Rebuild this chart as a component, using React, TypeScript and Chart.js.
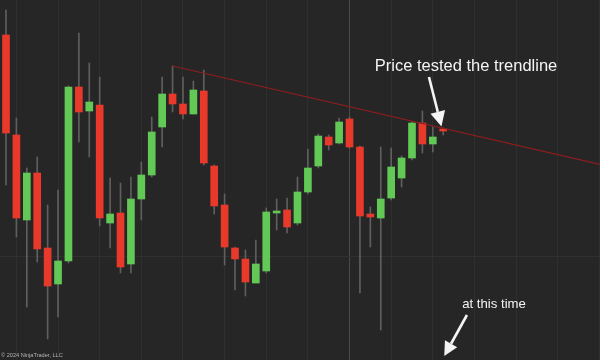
import React, { useEffect, useRef } from "react";
import { Chart, registerables } from "chart.js";

Chart.register(...registerables);

// ---- Data (prices; ES-style quarter ticks) ----
const candleIndex = [
  1, 2, 3, 4, 5, 6, 7, 8, 9, 10, 11, 12, 13, 14, 15, 16, 17, 18, 19, 20, 21, 22,
  23, 24, 25, 26, 27, 28, 29, 30, 31, 32, 33, 34, 35, 36, 37, 38, 39, 40, 41, 42, 43,
];
const openPrices = [
  4081.25, 4056.25, 4035, 4046.75, 4028, 4019, 4024.75, 4068.25, 4062.25, 4063.75,
  4034.25, 4036.75, 4024, 4040.25, 4046.25, 4058.25, 4066.5, 4064, 4061.5, 4067.25,
  4048.5, 4038.75, 4028, 4025.25, 4019.25, 4022.25, 4036.75, 4037.5, 4034.25, 4042,
  4048.5, 4055.75, 4054.25, 4060.25, 4053.25, 4036.5, 4035.5, 4040.5, 4045.5, 4050.5,
  4059.25, 4054, 4057.75,
];
const highPrices = [
  4087.5, 4060.5, 4048, 4050.75, 4038.75, 4042.5, 4068.5, 4081.75, 4074.25, 4070.75,
  4045.5, 4044.25, 4045.75, 4049.5, 4060.75, 4070.75, 4073.5, 4070.75, 4069.75, 4072.5,
  4048.75, 4041.5, 4028.25, 4027.5, 4030, 4038, 4040.25, 4040.5, 4045.75, 4052.75,
  4056.5, 4056.25, 4060.5, 4060.75, 4053.5, 4038.25, 4053.25, 4053, 4051, 4059.5,
  4062.25, 4058.25, 4058,
];
const lowPrices = [
  4043.75, 4030.75, 4013.25, 4024.5, 4005.25, 4010.75, 4024.25, 4054.5, 4050.75, 4033.5,
  4028, 4021.75, 4021.75, 4035, 4045.75, 4053.25, 4062, 4060.25, 4061.5, 4048.75,
  4036.5, 4023.75, 4017.5, 4016, 4019.25, 4021.75, 4032.5, 4031.75, 4033.75, 4041.5,
  4048, 4052.5, 4054, 4053, 4016.75, 4028.25, 4007.5, 4040, 4043.25, 4050,
  4051.75, 4052, 4056.25,
];
const closePrices = [
  4056.75, 4035.5, 4046.75, 4027.75, 4018.5, 4024.75, 4068.25, 4062, 4064.5, 4035.5,
  4036.5, 4023.25, 4040.25, 4046.25, 4057, 4066.5, 4064, 4061.5, 4067.5, 4049.25,
  4038.5, 4028.25, 4025.25, 4019.5, 4024, 4037, 4037.25, 4033.25, 4042, 4048,
  4056, 4053.75, 4059.5, 4053.25, 4036, 4035.75, 4040.25, 4048.25, 4050.5, 4059.25,
  4054, 4055.75, 4057.25,
];

// Trendline drawn from the swing high at bar 17
const trendX = [17, 60];
const trendY = [4073.5, 4047.75];

// Grid positions
const gridXTicks = [2, 6, 10, 14, 18, 22, 26, 30, 34, 38, 42, 46, 50, 54, 58];
const gridYTicks = [4026];
const sessionBreakBar = 34;

// Annotation texts
const noteTop = "Price tested the trendline";
const noteBottom = "at this time";
const copyright = "\u00A9 2024 NinjaTrader, LLC";

const UP = "#63c956";
const DOWN = "#e8392b";
const WICK = "#5f5f5f";
const BG = "#262626";

function drawArrow(
  ctx: CanvasRenderingContext2D,
  x1: number,
  y1: number,
  x2: number,
  y2: number,
  headLen: number,
  headHalf: number
) {
  const dx = x2 - x1;
  const dy = y2 - y1;
  const len = Math.hypot(dx, dy);
  const ux = dx / len;
  const uy = dy / len;
  const bx = x2 - ux * headLen;
  const by = y2 - uy * headLen;
  ctx.beginPath();
  ctx.moveTo(x1, y1);
  ctx.lineTo(bx, by);
  ctx.stroke();
  ctx.beginPath();
  ctx.moveTo(x2, y2);
  ctx.lineTo(bx - uy * headHalf, by + ux * headHalf);
  ctx.lineTo(bx + uy * headHalf, by - ux * headHalf);
  ctx.closePath();
  ctx.fill();
}

const annotationPlugin = {
  id: "annotations",
  beforeDraw(chart: any) {
    const { ctx, width, height } = chart;
    ctx.save();
    ctx.fillStyle = BG;
    ctx.fillRect(0, 0, width, height);
    ctx.restore();
  },
  afterDatasetsDraw(chart: any) {
    const { ctx, chartArea } = chart;
    const x = chart.scales.x;
    const y = chart.scales.y;
    ctx.save();
    ctx.fillStyle = "#f4f4f4";
    ctx.strokeStyle = "#f4f4f4";
    ctx.lineWidth = 2.6;
    ctx.lineCap = "butt";

    ctx.font = '16.5px "Liberation Sans", Arial, sans-serif';
    ctx.textAlign = "center";
    ctx.textBaseline = "alphabetic";
    ctx.fillText(noteTop, x.getPixelForValue(45.19), y.getPixelForValue(4072.25));

    ctx.font = '13.2px "Liberation Sans", Arial, sans-serif';
    ctx.fillText(noteBottom, x.getPixelForValue(47.88), y.getPixelForValue(4013));

    drawArrow(
      ctx,
      x.getPixelForValue(41.63),
      y.getPixelForValue(4070.75),
      x.getPixelForValue(42.83),
      y.getPixelForValue(4058.4),
      15,
      7.5
    );
    drawArrow(
      ctx,
      x.getPixelForValue(45.28),
      y.getPixelForValue(4011.25),
      x.getPixelForValue(43.1),
      y.getPixelForValue(4001),
      14,
      7
    );

    ctx.font = '5.6px "Liberation Sans", Arial, sans-serif';
    ctx.textAlign = "left";
    ctx.fillStyle = "#b4b4b4";
    ctx.fillText(copyright, chartArea.left + 1, chartArea.bottom - 3);
    ctx.restore();
  },
};

export default function App() {
  const canvasRef = useRef<HTMLCanvasElement | null>(null);

  useEffect(() => {
    if (!canvasRef.current) return;
    const colors = candleIndex.map((_, i) =>
      closePrices[i] >= openPrices[i] ? UP : DOWN
    );
    const wickData = candleIndex.map((c, i) => ({
      x: c,
      y: [lowPrices[i], highPrices[i]],
    }));
    const bodyData = candleIndex.map((c, i) => ({
      x: c,
      y: [Math.min(openPrices[i], closePrices[i]), Math.max(openPrices[i], closePrices[i])],
    }));
    const trendData = trendX.map((v, i) => ({ x: v, y: trendY[i] }));

    const chart = new Chart(canvasRef.current, {
      type: "bar",
      data: {
        datasets: [
          {
            type: "line",
            label: "Trendline",
            data: trendData as any,
            borderColor: "#8e1e1e",
            borderWidth: 1.2,
            pointRadius: 0,
            fill: false,
            order: 0,
          } as any,
          {
            label: "Body",
            data: bodyData as any,
            backgroundColor: colors,
            borderWidth: 0,
            barThickness: 7,
            grouped: false,
            order: 1,
          } as any,
          {
            label: "Wick",
            data: wickData as any,
            backgroundColor: WICK,
            borderWidth: 0,
            barThickness: 1,
            grouped: false,
            order: 2,
          } as any,
        ],
      },
      options: {
        animation: false,
        responsive: false,
        maintainAspectRatio: false,
        devicePixelRatio: 1,
        layout: { padding: 0 },
        plugins: {
          legend: { display: false },
          tooltip: { enabled: false },
        },
        scales: {
          x: {
            type: "linear",
            min: 0.4236,
            max: 58.06,
            offset: false,
            border: { display: false },
            ticks: { display: false },
            grid: {
              offset: false,
              drawTicks: false,
              lineWidth: 1,
              color: (ctx: any) =>
                ctx.tick && ctx.tick.value === sessionBreakBar ? "#4a4a4a" : "#2f2f2f",
            },
            afterBuildTicks: (scale: any) => {
              scale.ticks = gridXTicks.map((v) => ({ value: v }));
            },
          },
          y: {
            type: "linear",
            min: 4000,
            max: 4090,
            border: { display: false },
            ticks: { display: false },
            grid: { drawTicks: false, color: "#303030", lineWidth: 1 },
            afterBuildTicks: (scale: any) => {
              scale.ticks = gridYTicks.map((v) => ({ value: v }));
            },
          },
        },
      } as any,
      plugins: [annotationPlugin],
    });
    return () => chart.destroy();
  }, []);

  return (
    <div
      style={{
        position: "absolute",
        left: 0,
        top: 0,
        width: 600,
        height: 360,
        background: BG,
      }}
    >
      <canvas ref={canvasRef} width={600} height={360} />
    </div>
  );
}
